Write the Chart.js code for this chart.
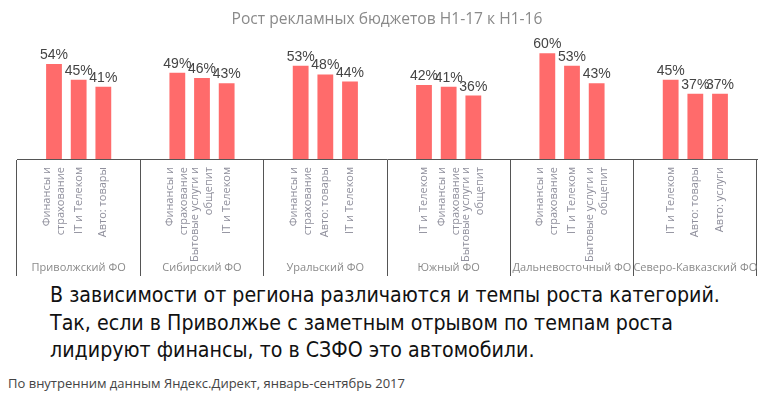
<!DOCTYPE html>
<html>
<head>
<meta charset="utf-8">
<script src="https://cdn.jsdelivr.net/npm/chart.js@4"></script>
<style>
    html, body { margin: 0; padding: 0; background: #fff; }
    body { width: 782px; height: 399px; position: relative; overflow: hidden; }
    #wrap { position: absolute; left: 0; top: 0; width: 782px; height: 280px; }
    #note {
        position: absolute; left: 50px; top: 281px; width: 760px;
        font-family: "Liberation Sans Narrow", "DejaVu Sans Condensed", Roboto, sans-serif;
        font-size: 22px; line-height: 27.5px; color: #111;
        transform: scaleX(0.963); transform-origin: 0 0;
    }
    #source {
        position: absolute; left: 8px; top: 374px;
        font-family: "Open Sans", sans-serif; font-size: 13px; color: #444;
    }
</style>
</head>
<body>
<div id="wrap"><canvas id="chart" width="782" height="280"></canvas></div>
<div id="note">В зависимости от региона различаются и темпы роста категорий.<br>Так, если в Приволжье с заметным отрывом по темпам роста<br>лидируют финансы, то в СЗФО это автомобили.</div>
<div id="source">По внутренним данным Яндекс.Директ, январь-сентябрь 2017</div>
<script>
    "use strict";

    const regions = ['Приволжский ФО', 'Сибирский ФО', 'Уральский ФО',
        'Южный ФО', 'Дальневосточный ФО', 'Северо-Кавказский ФО'];

    // категории для каждого из трёх столбцов в группе
    const firstCats = [
        ['Финансы и', 'страхование'], ['Финансы и', 'страхование'], ['Финансы и', 'страхование'],
        ['IT и Телеком'], ['Финансы и', 'страхование'], ['IT и Телеком'],
    ];
    const secondCats = [
        ['IT и Телеком'], ['Бытовые услуги и', 'общепит'], ['Авто: товары'],
        ['Финансы и', 'страхование'], ['IT и Телеком'], ['Авто: товары'],
    ];
    const thirdCats = [
        ['Авто: товары'], ['IT и Телеком'], ['IT и Телеком'],
        ['Бытовые услуги и', 'общепит'], ['Бытовые услуги и', 'общепит'], ['Авто: услуги'],
    ];

    const firstVals = [54, 49, 53, 42, 60, 45];
    const secondVals = [45, 46, 48, 41, 53, 37];
    const thirdVals = [41, 43, 44, 36, 43, 37];

    const barColor = '#ff6b6b';

    const labelsPlugin = {
        id: 'barLabels',
        afterDatasetsDraw(chart) {
            const ctx = chart.ctx;
            const cats = [firstCats, secondCats, thirdCats];
            const axisY = chart.scales.x.top;
            chart.data.datasets.forEach(function (ds, di) {
                const meta = chart.getDatasetMeta(di);
                meta.data.forEach(function (bar, i) {
                    // значение над столбцом
                    ctx.save();
                    ctx.fillStyle = '#444';
                    ctx.font = '14px "Liberation Sans", Arial, sans-serif';
                    ctx.textAlign = 'center';
                    ctx.textBaseline = 'alphabetic';
                    ctx.fillText(ds.data[i] + '%', bar.x, bar.y - 5);
                    ctx.restore();

                    // повернутая подпись категории
                    const lines = cats[di][i];
                    const step = 14;
                    ctx.save();
                    ctx.fillStyle = '#8f8f9c';
                    ctx.font = '11px "Open Sans", sans-serif';
                    ctx.textAlign = 'right';
                    ctx.textBaseline = 'middle';
                    lines.forEach(function (line, li) {
                        const x = bar.x + (li - (lines.length - 1) / 2) * step;
                        ctx.save();
                        ctx.translate(x, axisY + 8);
                        ctx.rotate(-Math.PI / 2);
                        ctx.fillText(line, 0, 0);
                        ctx.restore();
                    });
                    ctx.restore();
                });
            });
        },
    };

    new Chart(document.getElementById('chart').getContext('2d'), {
        type: 'bar',
        data: {
            labels: regions,
            datasets: [
                { data: firstVals, backgroundColor: barColor },
                { data: secondVals, backgroundColor: barColor },
                { data: thirdVals, backgroundColor: barColor },
            ],
        },
        options: {
            responsive: false,
            animation: false,
            events: [],
            categoryPercentage: 0.6,
            barPercentage: 0.64,
            layout: { padding: { left: 17, right: 25, top: 0, bottom: 4 } },
            plugins: {
                legend: { display: false },
                tooltip: { enabled: false },
                title: {
                    display: true,
                    text: 'Рост рекламных бюджетов H1-17 к H1-16',
                    color: '#8a8a8a',
                    font: { family: '"Open Sans", sans-serif', size: 15.6, weight: 'normal' },
                    padding: { top: 10, bottom: 7 },
                },
            },
            scales: {
                x: {
                    offset: true,
                    afterFit: function (scale) { scale.height = 117; },
                    grid: {
                        offset: true,
                        drawOnChartArea: false,
                        drawTicks: true,
                        tickLength: 117,
                        color: '#555',
                        lineWidth: 1,
                    },
                    border: { display: true, color: '#555', width: 1 },
                    ticks: {
                        color: '#8a8a8a',
                        font: { family: '"Open Sans", sans-serif', size: 11 },
                        padding: -15,
                        maxRotation: 0,
                        autoSkip: false,
                    },
                },
                y: {
                    display: false,
                    min: 0,
                    max: 70,
                },
            },
        },
        plugins: [labelsPlugin],
    });
</script>
</body>
</html>
